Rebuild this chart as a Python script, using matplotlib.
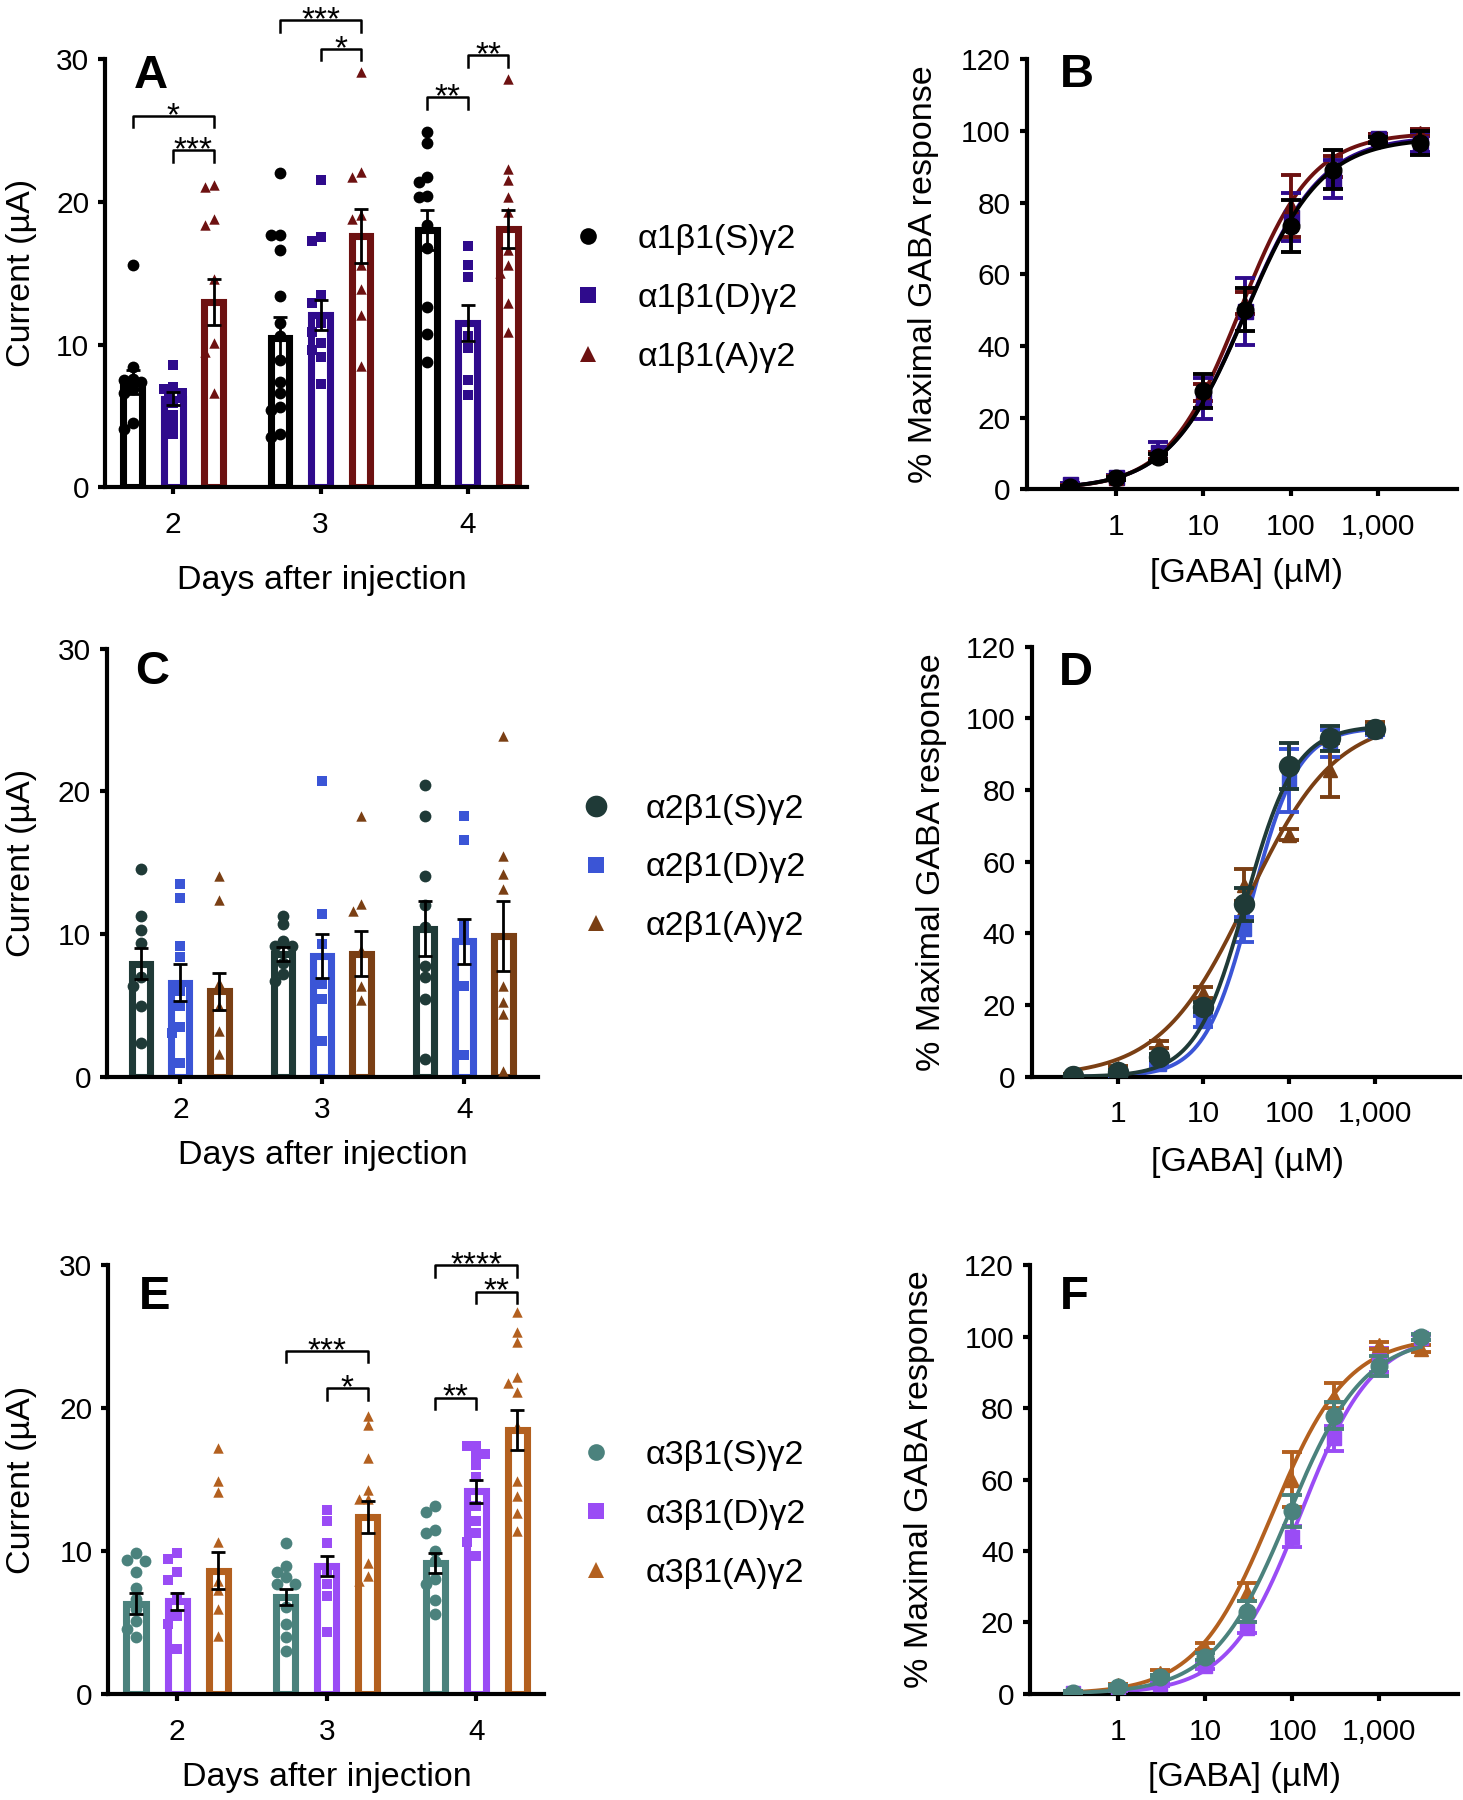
import numpy as np
import matplotlib
matplotlib.use("Agg")
import matplotlib.pyplot as plt
from matplotlib.lines import Line2D
from matplotlib.ticker import NullLocator

plt.rcParams['font.family'] = ['Liberation Sans', 'DejaVu Sans']

# ---------------- bar panels (current vs days) ----------------
days = [2, 3, 4]

# panel A : alpha1 subunits
a1_labels = ["α1β1(S)γ2", "α1β1(D)γ2", "α1β1(A)γ2"]
a1_colors = ["#000000", "#2f0b8c", "#6d1111"]
a1_mean = [[7.4, 10.45, 18.0], [6.2, 12.05, 11.5], [13.0, 17.6, 18.1]]
a1_sem = [[0.85, 1.45, 1.4], [0.45, 1.05, 1.25], [1.6, 1.9, 1.35]]
a1_pts_S = [[15.6, 8.4, 7.6, 7.5, 7.4, 7.2, 6.9, 6.6, 4.5, 4.1],
            [22.0, 17.7, 17.7, 16.6, 13.4, 11.5, 10.6, 8.9, 7.4, 6.6, 5.6, 5.4, 3.75, 3.5],
            [24.9, 24.1, 21.7, 21.4, 20.4, 20.3, 18.4, 16.75, 12.6, 10.75, 8.75]]
a1_pts_D = [[8.6, 7.0, 6.9, 6.6, 6.6, 5.9, 5.1, 4.4, 3.75],
            [21.5, 17.5, 17.25, 13.5, 12.9, 11.5, 10.9, 10.1, 9.6, 9.1, 7.25],
            [16.9, 15.6, 14.75, 10.6, 9.75, 7.5, 6.5]]
a1_pts_A = [[21.2, 21.0, 18.8, 18.4, 14.6, 10.1, 9.5, 6.6],
            [29.1, 22.1, 21.7, 19.1, 18.8, 15.6, 13.9, 12.1, 8.5],
            [28.6, 22.3, 21.5, 20.3, 19.25, 16.6, 15.6, 15.0, 12.9, 10.9]]
# (day, group1, group2, bracket height, stars)
a1_sig = [(2, 0, 2, 26.0, "*"), (2, 1, 2, 23.6, "***"),
          (3, 0, 2, 32.7, "***"), (3, 1, 2, 30.7, "*"),
          (4, 0, 1, 27.3, "**"), (4, 1, 2, 30.25, "**")]

# panel C : alpha2 subunits
a2_labels = ["α2β1(S)γ2", "α2β1(D)γ2", "α2β1(A)γ2"]
a2_colors = ["#1f3a37", "#3b55d6", "#7a3f14"]
a2_mean = [[7.95, 8.6, 10.4], [6.6, 8.5, 9.5], [6.0, 8.65, 9.85]]
a2_sem = [[1.1, 0.5, 1.9], [1.3, 1.55, 1.6], [1.3, 1.55, 2.45]]
a2_pts_S = [[14.55, 11.25, 10.3, 9.4, 7.0, 6.4, 5.0, 2.4],
            [11.3, 10.7, 9.5, 9.2, 9.2, 8.0, 7.25, 6.75],
            [20.45, 18.3, 14.1, 12.05, 10.5, 7.75, 7.0, 5.45, 1.25]]
a2_pts_D = [[13.5, 12.55, 9.2, 8.4, 6.0, 5.0, 3.5, 3.1, 1.0],
            [20.75, 11.4, 9.3, 6.5, 5.45, 2.55],
            [18.3, 16.6, 10.75, 10.0, 6.4, 1.55]]
a2_pts_A = [[14.1, 12.4, 6.6, 5.0, 3.25, 1.6],
            [18.25, 12.1, 11.6, 8.9, 6.4, 5.4],
            [23.9, 15.5, 14.2, 13.2, 6.4, 5.25, 4.4, 0.45]]
a2_sig = []

# panel E : alpha3 subunits
a3_labels = ["α3β1(S)γ2", "α3β1(D)γ2", "α3β1(A)γ2"]
a3_colors = ["#4b827d", "#9a4cf5", "#b3601f"]
a3_mean = [[6.35, 6.8, 9.2], [6.5, 9.0, 14.2], [8.65, 12.4, 18.5]]
a3_sem = [[0.7, 0.55, 0.7], [0.6, 0.7, 0.8], [1.3, 1.1, 1.4]]
a3_pts_S = [[9.85, 9.4, 9.3, 8.55, 7.4, 6.65, 6.0, 5.15, 4.6, 4.0],
            [10.6, 8.95, 8.55, 8.2, 7.7, 7.7, 6.1, 4.9, 4.0, 3.0],
            [13.2, 12.75, 11.5, 11.3, 10.05, 9.35, 8.05, 7.7, 6.6, 5.65]]
a3_pts_D = [[9.85, 9.45, 8.55, 8.0, 6.8, 5.5, 4.9, 3.2],
            [12.9, 12.1, 10.55, 8.7, 7.7, 6.9, 4.35],
            [17.35, 17.35, 16.8, 16.7, 16.05, 15.2, 13.15, 12.1, 11.25, 10.65, 9.7]]
a3_pts_A = [[17.2, 14.9, 14.15, 10.65, 7.9, 7.3, 6.0, 4.1],
            [19.45, 18.8, 16.5, 14.3, 13.65, 13.65, 9.2, 8.3, 7.9],
            [26.7, 25.3, 24.6, 22.2, 21.75, 21.15, 18.75, 14.9, 13.9, 12.65, 11.4]]
a3_sig = [(3, 0, 2, 24.0, "***"), (3, 1, 2, 21.4, "*"),
          (4, 0, 2, 30.0, "****"), (4, 1, 2, 28.15, "**"),
          (4, 0, 1, 20.75, "**")]

# ---------------- concentration-response panels ----------------
conc_B = [0.3, 1, 3, 10, 30, 100, 300, 1000, 3000]
b_mean = [[0.6, 3.0, 8.9, 27.3, 50.1, 73.5, 89.2, 97.4, 96.5],
          [1.5, 3.3, 10.5, 25.3, 49.6, 76.0, 86.5, 98.0, 96.5],
          [1.0, 3.2, 9.5, 27.0, 52.0, 79.0, 90.0, 98.0, 99.5]]
b_sem = [[0.3, 0.5, 1.0, 4.75, 6.0, 7.2, 5.4, 0.8, 3.35],
         [0.3, 0.6, 2.7, 5.8, 9.3, 6.6, 5.3, 1.0, 2.5],
         [0.3, 0.5, 1.0, 2.5, 3.0, 8.7, 3.0, 1.0, 1.0]]
b_ec50 = [30, 30, 26]
b_nh = [1.0, 1.0, 1.05]
b_top = [98, 98.5, 99.5]

conc_D = [0.3, 1, 3, 10, 30, 100, 300, 1000]
d_mean = [[0.2, 1.4, 5.6, 19.5, 48.1, 86.7, 94.4, 97.0],
          [0.0, 0.3, 3.5, 15.5, 41.2, 82.8, 93.0, 96.5],
          [0.5, 2.5, 9.0, 23.5, 53.5, 67.5, 85.5, 98.0]]
d_sem = [[0.3, 0.5, 0.8, 1.5, 4.7, 6.4, 3.5, 1.0],
         [0.2, 0.3, 0.6, 1.5, 3.5, 8.8, 3.7, 1.0],
         [0.3, 0.5, 1.0, 1.5, 4.5, 1.5, 7.5, 1.0]]
d_ec50 = [31, 36, 33]
d_nh = [1.5, 1.6, 0.85]
d_top = [98, 97.5, 100]

conc_F = [0.3, 1, 3, 10, 30, 100, 300, 1000, 3000]
f_mean = [[0.4, 2.0, 4.8, 10.4, 23.0, 51.3, 77.9, 91.7, 99.8],
          [0.3, 1.0, 2.8, 7.7, 18.5, 44.0, 71.5, 93.5, 99.7],
          [0.6, 2.4, 6.0, 13.2, 28.5, 60.0, 83.5, 97.5, 96.6]]
f_sem = [[0.3, 0.4, 0.6, 1.0, 2.9, 4.5, 3.7, 2.8, 0.8],
         [0.2, 0.3, 0.5, 0.8, 1.5, 3.0, 3.4, 3.3, 0.8],
         [0.3, 0.5, 0.8, 1.0, 2.5, 7.8, 3.5, 1.0, 1.0]]
f_ec50 = [90, 125, 58]
f_nh = [1.0, 1.05, 1.0]
f_top = [100, 101, 100]

markers = ["o", "s", "^"]


def swarm(vals, dy, dx):
    # spread points with close values sideways, GraphPad style
    placed = []
    offs = []
    cands = [0.0, -dx, dx, -dx / 2, dx / 2, -1.5 * dx, 1.5 * dx]
    for v in vals:
        pick = 0.0
        for c in cands:
            if all(abs(v - pv) >= dy or abs(c - pc) >= dx * 0.45 for pv, pc in placed):
                pick = c
                break
        placed.append((v, pick))
        offs.append(pick)
    return np.array(offs)


def style_axis(ax, xpad=12):
    for s in ["top", "right"]:
        ax.spines[s].set_visible(False)
    for s in ["left", "bottom"]:
        ax.spines[s].set_linewidth(3)
    ax.tick_params(axis="both", direction="out", length=5, width=3, labelsize=21.5)
    ax.tick_params(axis="y", pad=6.5)
    ax.tick_params(axis="x", pad=xpad)


def bar_panel(ax, means, sems, pts, colors, sig, xlim, letter, lx, ly, xl_pos, xpad=12):
    offsets = [-0.275, 0.0, 0.275]
    sizes = [8.5, 7.7, 7.5]
    for g in range(3):
        xs = np.array(days) + offsets[g]
        ax.bar(xs, means[g], width=0.128, facecolor="white", edgecolor=colors[g],
               linewidth=5.1, zorder=2, joinstyle="miter")
        for i in range(3):
            vals = np.array(pts[g][i])
            jit = swarm(vals, 0.6, 0.06)
            ax.scatter(xs[i] + jit, vals, marker=markers[g], s=sizes[g] ** 2,
                       color=colors[g], linewidths=0, zorder=3)
        ax.errorbar(xs, means[g], yerr=sems[g], fmt="none", ecolor="black",
                    elinewidth=2, capsize=5, capthick=2, zorder=4)
    for day, g1, g2, y, stars in sig:
        x1 = day + offsets[g1]
        x2 = day + offsets[g2]
        ax.plot([x1, x1, x2, x2], [y - 0.8, y, y, y - 0.8], color="black",
                lw=1.8, clip_on=False, zorder=5)
        ax.annotate(stars, xy=((x1 + x2) / 2, y), xytext=(0, -6.5),
                    textcoords="offset points", ha="center", va="baseline",
                    fontsize=24, annotation_clip=False)
    ax.set_xlim(*xlim)
    ax.set_ylim(0, 30)
    ax.set_xticks(days)
    ax.set_yticks([0, 10, 20, 30])
    style_axis(ax, xpad)
    ax.set_ylabel("Current (µA)", fontsize=24.5)
    ax.yaxis.set_label_coords(-0.2, 0.5)
    ax.yaxis.label.set_va("center")
    ax.set_xlabel("Days after injection", fontsize=24.5)
    ax.xaxis.set_label_coords(xl_pos[0], xl_pos[1])
    ax.xaxis.label.set_va("center")
    ax.text(lx, ly, letter, transform=ax.transAxes, fontsize=34, fontweight="bold",
            ha="left", va="baseline")


def hill(x, ec50, nh, top):
    return top * x ** nh / (x ** nh + ec50 ** nh)


def dose_panel(ax, conc, means, sems, colors, ec50, nh, top, xlim, msz, letter, lx, ly,
               ylab_x, xl_pos):
    xfit = np.logspace(np.log10(conc[0]), np.log10(conc[-1]), 300)
    for g in [1, 2, 0]:
        z = 4 if g == 0 else 3
        ax.errorbar(conc, means[g], yerr=sems[g], fmt=markers[g], color=colors[g],
                    ms=msz[g], elinewidth=2.8, capsize=7.5, capthick=2.8, zorder=z)
        ax.plot(xfit, hill(xfit, ec50[g], nh[g], top[g]), color=colors[g],
                lw=2.8, zorder=z - 0.5)
    ax.set_xscale("log")
    ax.set_xlim(*xlim)
    ax.set_ylim(0, 120)
    ax.set_xticks([1, 10, 100, 1000])
    ax.set_xticklabels(["1", "10", "100", "1,000"])
    ax.xaxis.set_minor_locator(NullLocator())
    ax.set_yticks([0, 20, 40, 60, 80, 100, 120])
    style_axis(ax)
    ax.set_ylabel("% Maximal GABA response", fontsize=24.5)
    ax.yaxis.set_label_coords(ylab_x, 0.5)
    ax.yaxis.label.set_va("center")
    ax.set_xlabel("[GABA] (µM)", fontsize=24.5)
    ax.xaxis.set_label_coords(xl_pos[0], xl_pos[1])
    ax.xaxis.label.set_va("center")
    ax.text(lx, ly, letter, transform=ax.transAxes, fontsize=34, fontweight="bold",
            ha="left", va="baseline")


def add_legend(ax, fig, labels, colors, msizes, left, ymid):
    handles = [Line2D([], [], marker=markers[g], linestyle="none", color=colors[g],
                      markersize=msizes[g], markeredgewidth=0) for g in range(3)]
    ax.legend(handles, labels, loc="center left", bbox_to_anchor=(left, ymid),
              bbox_transform=fig.transFigure, frameon=False, fontsize=24.5,
              handlelength=1.0, handletextpad=0.97, labelspacing=0.82,
              borderpad=0, borderaxespad=0)


fig = plt.figure(figsize=(14.63, 18), dpi=100)

axA = fig.add_axes([0.0720, 0.7292, 0.2881, 0.2381])
bar_panel(axA, a1_mean, a1_sem, [a1_pts_S, a1_pts_D, a1_pts_A], a1_colors, a1_sig,
          (1.54, 4.40), "A", 0.068, 0.933, (0.513, -0.216))
add_legend(axA, fig, a1_labels, a1_colors, [12, 12, 11.5], 0.3903, 0.834)

axC = fig.add_axes([0.0732, 0.4016, 0.2942, 0.2381])
bar_panel(axC, a2_mean, a2_sem, [a2_pts_S, a2_pts_D, a2_pts_A], a2_colors, a2_sig,
          (1.484, 4.515), "C", 0.066, 0.9165, (0.502, -0.184), xpad=8.5)
add_legend(axC, fig, a2_labels, a2_colors, [15.6, 12, 12], 0.3958, 0.5178)

axE = fig.add_axes([0.0741, 0.0587, 0.2980, 0.2384])
bar_panel(axE, a3_mean, a3_sem, [a3_pts_S, a3_pts_D, a3_pts_A], a3_colors, a3_sig,
          (1.541, 4.455), "E", 0.071, 0.898, (0.501, -0.193))
add_legend(axE, fig, a3_labels, a3_colors, [12, 12, 12], 0.3958, 0.1588)

axB = fig.add_axes([0.7018, 0.7282, 0.2939, 0.2389])
dose_panel(axB, conc_B, b_mean, b_sem, a1_colors, b_ec50, b_nh, b_top,
           (0.095, 7890), [12, 10.8, 10], "B", 0.076, 0.936, -0.241, (0.51, -0.195))

axD = fig.add_axes([0.7052, 0.4018, 0.2928, 0.2389])
dose_panel(axD, conc_D, d_mean, d_sem, a2_colors, d_ec50, d_nh, d_top,
           (0.0995, 9800), [14.4, 9.5, 10], "D", 0.064, 0.911, -0.235, (0.503, -0.2))

axF = fig.add_axes([0.7040, 0.0589, 0.2926, 0.2383])
dose_panel(axF, conc_F, f_mean, f_sem, a3_colors, f_ec50, f_nh, f_top,
           (0.0966, 8040), [12, 10, 10], "F", 0.07, 0.897, -0.257, (0.502, -0.195))

fig.savefig("out.png", dpi=100)
